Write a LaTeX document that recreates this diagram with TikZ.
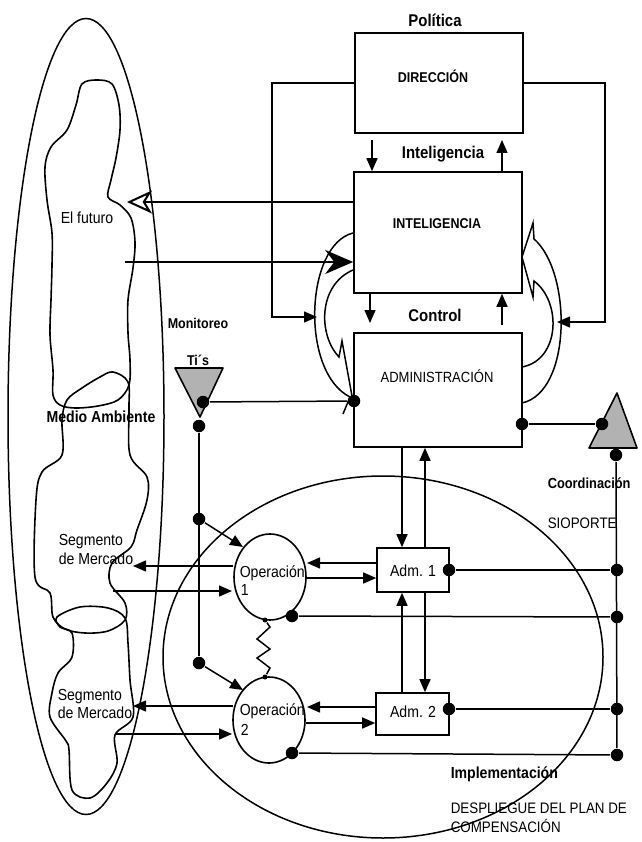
\documentclass[tikz,border=0pt]{standalone}
\usepackage{fontspec}
\setmainfont{Liberation Sans}[FakeStretch=0.88]
\usetikzlibrary{arrows.meta,shapes.geometric,calc}
\begin{document}
\begin{tikzpicture}[x=1pt,y=-1pt,line width=1.5pt,
  box/.style={draw,rectangle,inner sep=0pt,line width=1.6pt},
  lab/.style={font=\fontsize{16}{18}\selectfont,inner sep=0pt,text height=11.4pt,text depth=0pt},
  slab/.style={font=\fontsize{14.8}{17}\selectfont,inner sep=0pt,text height=10.6pt,text depth=0pt},
  blab/.style={font=\bfseries\fontsize{17}{19}\selectfont,inner sep=0pt,text height=12.2pt,text depth=0pt},
  mlab/.style={font=\bfseries\fontsize{16}{18}\selectfont,inner sep=0pt,text height=11.4pt,text depth=0pt},
  hlab/.style={font=\bfseries\fontsize{14.2}{16}\selectfont,inner sep=0pt,text height=10.2pt,text depth=0pt},
  arr/.style={-{Triangle[length=13pt,width=11pt]}},
  dotn/.style={circle,fill,inner sep=0pt,minimum size=12.5pt},
  sdot/.style={circle,fill,inner sep=0pt,minimum size=5pt},
  opn/.style={draw,ellipse,inner sep=0pt,minimum width=72pt,minimum height=86pt,line width=1.6pt},
  tri/.style={draw,fill=gray!60,line width=1.6pt,line join=round}]
\useasboundingbox (0,0) rectangle (641,842);
\fill[white] (0,0) rectangle (641,842);

% ---- environment (left) ----
\draw (86,416.5) ellipse [x radius=78pt,y radius=398pt];
\draw[line width=1.6pt] plot[smooth cycle,tension=0.55] coordinates {
 (82,84) (97,80) (112,84) (119,105) (120,130) (116,158) (111,180) (108,197)
 (120,205) (131,218) (135,242) (133,268) (128,300) (128,333) (130,360) (129,385)
 (118,400) (98,406) (75,408) (60,405) (53,395) (53,370) (50,335) (51,300)
 (52,265) (52,233) (47,200) (45,167) (51,147) (67,130) (76,105)};
\draw[line width=1.6pt] plot[smooth cycle,tension=0.55] coordinates {
 (67,400) (82,388) (100,377) (113,372) (128,382) (129,410) (130,455) (147,477)
 (147,500) (137,530) (131,547) (112,563) (110,583) (125,603) (125,620)
 (108,631) (85,633) (65,629) (53,617) (50,593) (35,577) (36,500) (42,472)
 (62,455) (62,420)};
\draw[line width=1.6pt] plot[smooth cycle,tension=0.55] coordinates {
 (57,617) (80,607) (108,608) (125,618) (128,643) (130,680) (133,717) (115,735)
 (117,763) (107,783) (90,798) (72,790) (69,750) (66,741) (50,717) (52,693)
 (58,673) (72,657) (72,633) (60,627)};

% ---- implementation circle ----
\draw (383,657) ellipse [x radius=220pt,y radius=181pt];

% ---- boxes ----
\node[box,minimum width=168pt,minimum height=100pt] (dir) at (439,83) {};
\node[box,minimum width=168pt,minimum height=121pt] (intel) at (438,232.5) {};
\node[box,minimum width=168pt,minimum height=114pt] (admin) at (438,390) {};
\node[box,minimum width=72pt,minimum height=44pt] (adm1) at (413,570) {};
\node[box,minimum width=73pt,minimum height=42pt] (adm2) at (412.5,714) {};
\node[opn] (op1) at (270,577) {};
\node[opn] (op2) at (269,720) {};

% ---- named coordinates ----
\coordinate (lturn) at (272,317);
\coordinate (ltip) at (317,317);
\coordinate (rturn) at (605,322);
\coordinate (rtip) at (557,322);
\coordinate (a1) at (372,140);
\coordinate (a2) at (502,140);
\coordinate (c1) at (370,323);
\coordinate (c2) at (502,325);
\coordinate (fut) at (127,202);
\coordinate (inS) at (125,262);
\coordinate (d1) at (402,500);
\coordinate (d2) at (425,500);
\coordinate (s1) at (133,566);
\coordinate (s1b) at (113,591);
\coordinate (s2) at (133,706);
\coordinate (s2b) at (115,734);
\coordinate (tA) at (175,368);
\coordinate (tB) at (223,368);
\coordinate (tC) at (200,417);
\coordinate (uA) at (617,393);
\coordinate (uB) at (589,448);
\coordinate (uC) at (637,448);
\coordinate (sp1) at (265,620);
\coordinate (sp2) at (265,677);

% ---- curved block arrows ----
\draw (353,233) .. controls (305,245) and (300,372) .. (350,397) -- (343,414);
\draw (353,270) .. controls (318,285) and (318,335) .. (339,357) -- (342,341) -- (352,396);
\draw (522,257) -- (533,223) -- (534,239) .. controls (572,272) and (572,392) .. (522,403);
\draw (522,257) -- (533,297) -- (534,281) .. controls (562,302) and (560,360) .. (522,367);

% ---- top connectors ----
\draw[arr] (dir.west) -| (lturn) -- (ltip);
\draw[arr] (dir.east) -| (rturn) -- (rtip);
\draw[arr] (a1) -- (a1 |- intel.north);
\draw[arr] (a2 |- intel.north) -- (a2);
\draw[arr] (c1 |- intel.south) -- (c1);
\draw[arr] (c2) -- (c2 |- intel.south);
\draw[-{Stealth[open,length=25pt,width=23pt,inset=7pt,line width=2pt]}] (intel.west |- fut) -- (fut);
\draw[-{Stealth[length=28pt,width=24pt,inset=9pt]}] (inS) -- (inS -| intel.west);

% ---- triangles ----
\draw[tri] (tA) -- (tB) -- (tC) -- cycle;
\draw[tri] (uA) -- (uB) -- (uC) -- cycle;

% ---- dots ----
\node[dotn] (tid) at (203,402) {};
\node[dotn] (tid2) at (199,426) {};
\node[dotn] (m1) at (199,519) {};
\node[dotn] (m2) at (199,663) {};
\node[dotn] (ad) at (354,401) {};
\node[dotn] (ad2) at (522,424) {};
\node[dotn] (ud) at (602,424) {};
\node[dotn] (ud2) at (616,455) {};
\node[dotn] (a1d) at (449,570) {};
\node[dotn] (a2d) at (449,709) {};
\node[dotn] (o1d) at (292,616) {};
\node[dotn] (o2d) at (292,753) {};
\node[dotn] (r1) at (617,570) {};
\node[dotn] (r2) at (617,617) {};
\node[dotn] (r3) at (617,709) {};
\node[dotn] (r4) at (617,755) {};
\node[sdot] (z1) at (sp1) {};
\node[sdot] (z2) at (sp2) {};

% ---- middle/bottom connectors ----
\draw (tid) -- (ad);
\draw (ad2) -- (ud);
\draw (ud2) -- (r4);
\draw (tid2) -- (m2);
\draw[arr] (m1) -- (243,547);
\draw[arr] (m2) -- (243,690);
\draw[arr] (admin.south -| d1) -- (adm1.north -| d1);
\draw[arr] (adm1.north -| d2) -- (admin.south -| d2);
\draw[arr] (adm2.north -| d1) -- (adm1.south -| d1);
\draw[arr] (adm1.south -| d2) -- (adm2.north -| d2);
\draw[arr] (adm1.west |- 0,563) -- (307,563);
\draw[arr] (306,578) -- (adm1.west |- 0,578);
\draw[arr] (adm2.west |- 0,707) -- (307,707);
\draw[arr] (306,723) -- (adm2.west |- 0,723);
\draw (a1d) -- (r1);
\draw (o1d) -- (r2);
\draw (a2d) -- (r3);
\draw (o2d) -- (r4);
\draw[arr] (233,566) -- (s1);
\draw[arr] (s1b) -- (232,591);
\draw[arr] (233,706) -- (s2);
\draw[arr] (s2b) -- (232,734);
\draw (z1) -- (270,627) -- (257,639) -- (270,649) -- (257,658) -- (270,668) -- (z2);

% ---- texts ----
\node[blab] (tpol) at (435,20) {Política};
\node[hlab] (tdir) at (433,77) {DIRECCIÓN};
\node[blab] (tint) at (443,152) {Inteligencia};
\node[hlab] (tINT) at (437,223) {INTELIGENCIA};
\node[blab] (tcon) at (435,315) {Control};
\node[slab] (tadm) at (437,377) {ADMINISTRACIÓN};
\node[hlab] (tmon) at (198,323) {Monitoreo};
\node[hlab] (tti) at (198,360) {Ti´s};
\node[lab] (tfut) at (87,218) {El futuro};
\node[mlab] (tmed) at (101,417) {Medio Ambiente};
\node[lab,anchor=west] (ts1) at (58,540) {Segmento};
\node[lab,anchor=west] (tm1) at (58,559) {de Mercado};
\node[lab,anchor=west] (ts2) at (57,695) {Segmento};
\node[lab,anchor=west] (tm2) at (57,713) {de Mercado};
\node[hlab,font=\bfseries\fontsize{14.6}{16}\selectfont,anchor=west] (tcoo) at (547,483) {Coordinación};
\node[slab,font=\fontsize{15.2}{17}\selectfont,anchor=west] (tsio) at (547,523) {SIOPORTE};
\node[lab,anchor=west] (top1) at (239,572) {Operación};
\node[lab,anchor=west] (tn1) at (240,590) {1};
\node[lab,anchor=west] (top2) at (239,710) {Operación};
\node[lab,anchor=west] (tn2) at (240,730) {2};
\node[lab] (tad1) at (413,571) {Adm. 1};
\node[lab] (tad2) at (413,712) {Adm. 2};
\node[mlab,anchor=west] (timp) at (450,773) {Implementación};
\node[slab,font=\fontsize{15.2}{17}\selectfont,anchor=west] (tdes) at (450,808) {DESPLIEGUE DEL PLAN DE};
\node[slab,font=\fontsize{15.2}{17}\selectfont,anchor=west] (tcom) at (450,827) {COMPENSACIÓN};
\end{tikzpicture}
\end{document}
